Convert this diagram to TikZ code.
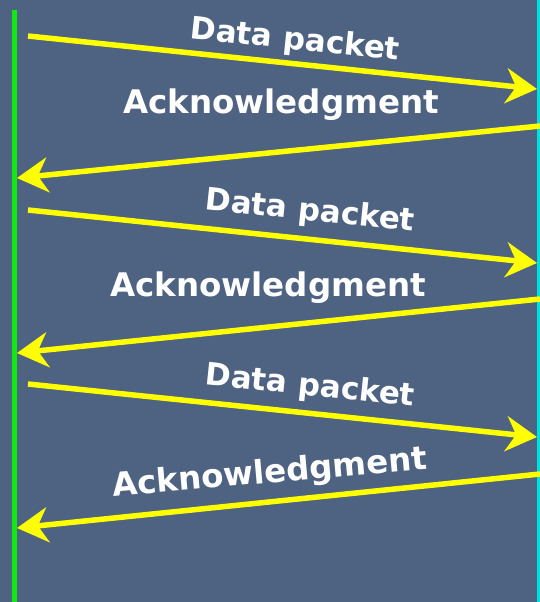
\documentclass[tikz,border=0pt]{standalone}
\usepackage{fontspec}
\setmainfont{DejaVu Sans}
\usetikzlibrary{arrows.meta}

\definecolor{panel}{HTML}{4E6282}
\definecolor{hostA}{HTML}{12E812}
\definecolor{hostB}{HTML}{00E0E0}
\definecolor{msg}{HTML}{FFFF00}

\tikzset{
  message/.style={draw=msg, line width=5.5pt,
    -{Stealth[length=31pt, width=35pt, inset=10pt]}},
  caption/.style={text=white, font=\fontsize{31}{31}\selectfont\bfseries,
    inner sep=0pt},
  widecaption/.style={caption, font=\fontsize{32.5}{32.5}\selectfont\bfseries},
  timeline/.style={line width=#1}
}

\begin{document}
\begin{tikzpicture}[x=1pt, y=-1pt]
  % panel
  \fill[panel] (0,0) rectangle (540,602);
  \useasboundingbox (0,0) rectangle (540,602);

  % the two time lines
  \coordinate (a-top) at (14.5,10);
  \coordinate (a-bot) at (14.5,602);
  \coordinate (b-top) at (538.5,0);
  \coordinate (b-bot) at (538.5,602);
  \draw[hostA, timeline=5pt] (a-top) -- (a-bot);
  \draw[hostB, timeline=3pt] (b-top) -- (b-bot);

  % end points of the messages
  \coordinate (d1s) at (28,36);   \coordinate (d1e) at (537,89);
  \coordinate (k1s) at (540,126); \coordinate (k1e) at (17,178);
  \coordinate (d2s) at (28,210);  \coordinate (d2e) at (537,263);
  \coordinate (k2s) at (540,299); \coordinate (k2e) at (17,353);
  \coordinate (d3s) at (28,384);  \coordinate (d3e) at (537,437);
  \coordinate (k3s) at (540,474); \coordinate (k3e) at (17,528);

  % messages
  \draw[message] (d1s) -- (d1e);
  \draw[message] (k1s) -- (k1e);
  \draw[message] (d2s) -- (d2e);
  \draw[message] (k2s) -- (k2e);
  \draw[message] (d3s) -- (d3e);
  \draw[message] (k3s) -- (k3e);

  % labels
  \node[caption, rotate=-6]    (ld1) at (295,41)  {Data packet};
  \node[widecaption]           (lk1) at (281,105) {Acknowledgment};
  \node[caption, rotate=-6]    (ld2) at (310,212) {Data packet};
  \node[widecaption]           (lk2) at (268,288) {Acknowledgment};
  \node[caption, rotate=-6]    (ld3) at (310,387) {Data packet};
  \node[widecaption, rotate=5] (lk3) at (270,474) {Acknowledgment};
\end{tikzpicture}
\end{document}
